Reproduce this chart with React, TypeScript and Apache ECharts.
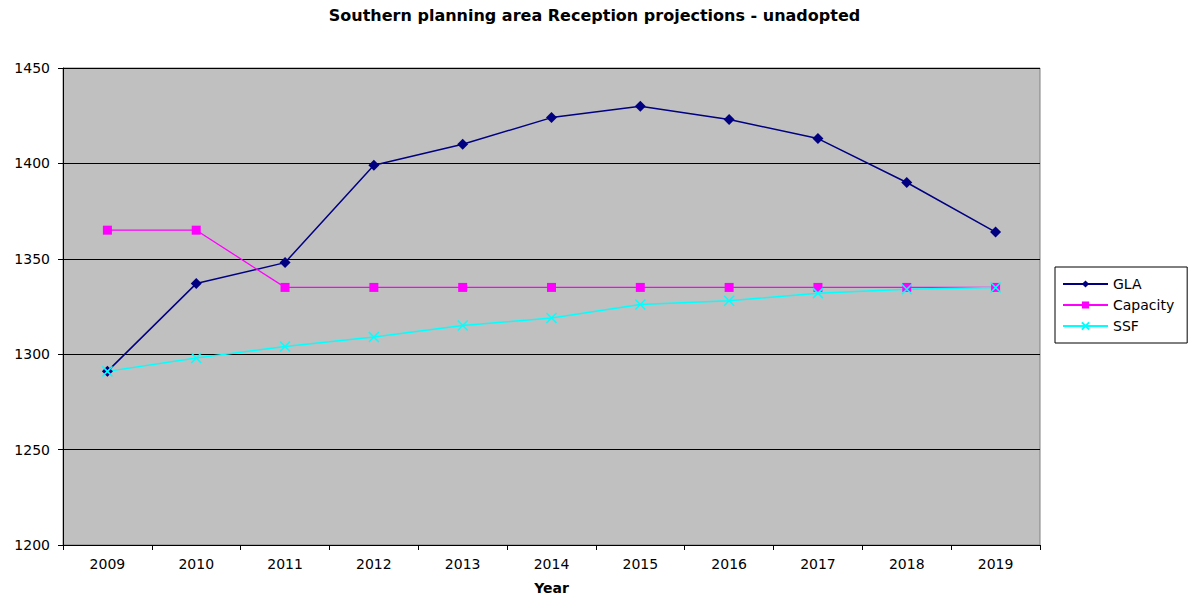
import React, { useEffect, useRef } from "react";
import * as echarts from "echarts";

const years = ["2009", "2010", "2011", "2012", "2013", "2014", "2015", "2016", "2017", "2018", "2019"];
const glaValues = [1291, 1337, 1348, 1399, 1410, 1424, 1430, 1423, 1413, 1390, 1364];
const capacityValues = [1365, 1365, 1335, 1335, 1335, 1335, 1335, 1335, 1335, 1335, 1335];
const ssfValues = [1291, 1298, 1304, 1309, 1315, 1319, 1326, 1328, 1332, 1334, 1335];

const titleText = "Southern planning area Reception projections - unadopted";
const xAxisName = "Year";

const crossPath = "path://M0,0L10,10M10,0L0,10";

export default function App() {
  const ref = useRef<HTMLDivElement>(null);
  useEffect(() => {
    if (!ref.current) return;
    const chart = echarts.init(ref.current, null, { renderer: "svg" });
    const font = "'DejaVu Sans', Arial, sans-serif";
    chart.setOption({
      animation: false,
      backgroundColor: "#ffffff",
      textStyle: { fontFamily: font },
      title: {
        text: titleText,
        left: "center",
        top: 2,
        textStyle: { fontSize: 16, fontWeight: "bold", color: "#000", fontFamily: font },
      },
      grid: {
        left: 63,
        right: 149,
        top: 68,
        bottom: 51,
        outerBoundsMode: "none",
        containLabel: false,
        show: true,
        backgroundColor: "#C0C0C0",
        borderColor: "#808080",
        borderWidth: 1,
      },
      legend: {
        orient: "vertical",
        left: 1055,
        top: 267,
        padding: [10, 13, 10, 7],
        itemGap: 7,
        itemWidth: 45,
        itemHeight: 9,
        backgroundColor: "#ffffff",
        borderColor: "#000000",
        borderWidth: 1,
        textStyle: { fontSize: 14, color: "#000", fontFamily: font },
        data: ["GLA", "Capacity", "SSF"],
      },
      xAxis: {
        type: "category",
        data: years,
        boundaryGap: true,
        name: xAxisName,
        nameLocation: "middle",
        nameGap: 36,
        nameTextStyle: { fontSize: 14, fontWeight: "bold", color: "#000", fontFamily: font },
        axisLine: { show: true, lineStyle: { color: "#000", width: 1 } },
        axisTick: { show: true, alignWithLabel: false, length: 5, lineStyle: { color: "#000" } },
        axisLabel: { fontSize: 14, color: "#000", margin: 12, fontFamily: font },
        splitLine: { show: false },
      },
      yAxis: {
        type: "value",
        min: 1200,
        max: 1450,
        interval: 50,
        axisLine: { show: true, lineStyle: { color: "#000", width: 1 } },
        axisTick: { show: true, length: 5, lineStyle: { color: "#000" } },
        axisLabel: {
          fontSize: 14,
          color: "#000",
          margin: 13,
          fontFamily: font,
          formatter: (v: number) => String(v),
        },
        splitLine: { show: true, lineStyle: { color: "#000", width: 1 } },
      },
      series: [
        {
          name: "GLA",
          type: "line",
          data: glaValues,
          symbol: "diamond",
          symbolSize: 11,
          lineStyle: { color: "#000080", width: 1.5 },
          itemStyle: { color: "#000080" },
        },
        {
          name: "Capacity",
          type: "line",
          data: capacityValues,
          symbol: "rect",
          symbolSize: 9,
          lineStyle: { color: "#FF00FF", width: 1.3 },
          itemStyle: { color: "#FF00FF" },
        },
        {
          name: "SSF",
          type: "line",
          data: ssfValues,
          symbol: crossPath,
          symbolSize: 10,
          lineStyle: { color: "#00FFFF", width: 1.5 },
          itemStyle: { color: "#00FFFF", borderColor: "#00FFFF", borderWidth: 1.5 },
        },
      ],
    });
    return () => chart.dispose();
  }, []);
  return (
    <div
      ref={ref}
      style={{ position: "fixed", left: 0, top: 0, width: 1189, height: 596 }}
    />
  );
}
